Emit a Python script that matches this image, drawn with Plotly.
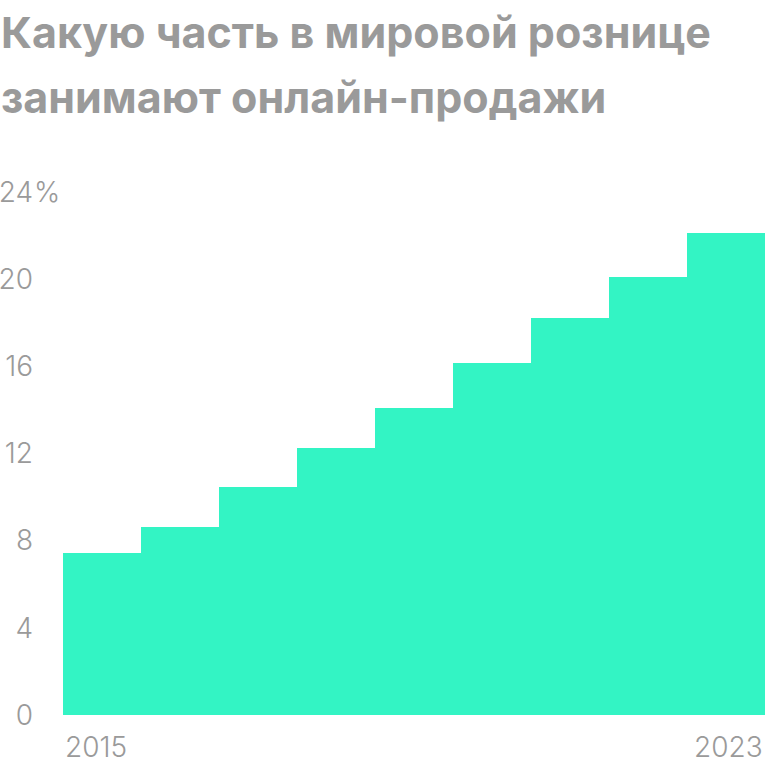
import plotly.graph_objects as go

years = [2015, 2016, 2017, 2018, 2019, 2020, 2021, 2022, 2023]
share = [7.45, 8.65, 10.45, 12.25, 14.1, 16.15, 18.2, 20.1, 22.1]
y_ticks = [0, 4, 8, 12, 16, 20, 24]
y_labels = ["0", "4", "8", "12", "16", "20", "24"]
x_labels = ["2015", "2023"]
title_lines = ["Какую часть в мировой рознице", "занимают онлайн-продажи"]

grey = "#9a9a9a"
tick_font = dict(family="Inter", size=28, color=grey, weight=300)

fig = go.Figure()
fig.add_trace(go.Bar(x=years, y=share, width=1, marker_color="#33F4C4",
                     marker_line_width=0))

# подписи по оси x: первая прижата влево, последняя вправо
fig.add_annotation(x=years[0] - 0.5, y=0, xref="x", yref="paper", text=x_labels[0],
                   xanchor="left", yanchor="top", yshift=-13, showarrow=False,
                   font=tick_font)
fig.add_annotation(x=years[-1] + 0.5, y=0, xref="x", yref="paper", text=x_labels[1],
                   xanchor="right", yanchor="top", yshift=-13, showarrow=False,
                   font=tick_font)
# знак процента после верхней подписи
fig.add_annotation(x=0, y=y_ticks[-1], xref="paper", yref="y", text="%",
                   xanchor="left", yanchor="middle", xshift=-31, showarrow=False,
                   font=tick_font)

# заголовок в две строки
for i, line in enumerate(title_lines):
    fig.add_annotation(x=0, y=1, xref="paper", yref="paper", text=line,
                       xanchor="left", yanchor="middle", xshift=-64,
                       yshift=160 - 65 * i, showarrow=False,
                       font=dict(family="Inter", size=43, color=grey, weight=700))

fig.update_layout(
    width=768, height=768,
    margin=dict(l=63, r=3, t=192, b=53),
    plot_bgcolor="white", paper_bgcolor="white",
    showlegend=False, bargap=0,
)
fig.update_xaxes(range=[years[0] - 0.5, years[-1] + 0.5], showticklabels=False,
                 showgrid=False, zeroline=False, showline=False)
fig.update_yaxes(range=[0, 24], tickvals=y_ticks, ticktext=y_labels,
                 showgrid=False, zeroline=False, showline=False, automargin=False,
                 ticklabelstandoff=29, tickfont=tick_font)

fig.write_html("out.html", config={"displayModeBar": False},
               post_script="document.body.style.margin='0';")
